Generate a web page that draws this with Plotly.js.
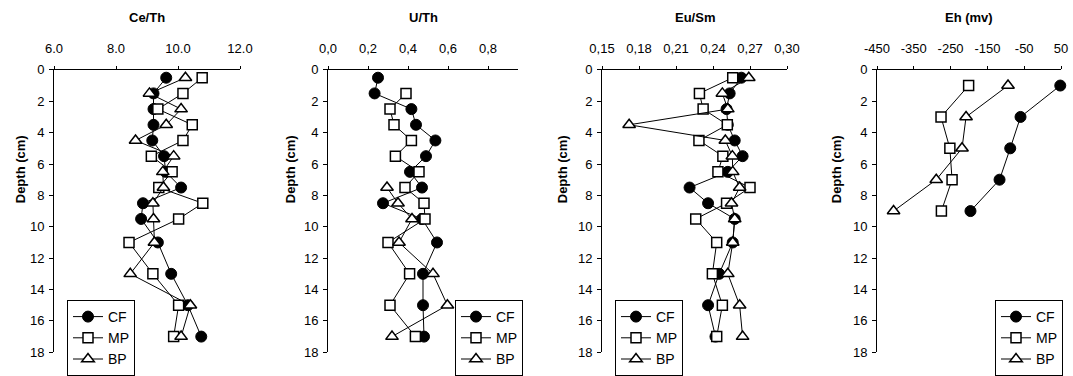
<!DOCTYPE html>
<html>
<head>
<meta charset="utf-8">
<script src="https://cdn.plot.ly/plotly-3.0.1.min.js"></script>
<style>html,body{margin:0;padding:0;background:#fff;}#chart{width:1073px;height:376px;}</style>
</head>
<body>
<div id="chart"></div>
<script>
// ---- data ----
const depth = [0.5, 1.5, 2.5, 3.5, 4.5, 5.5, 6.5, 7.5, 8.5, 9.5, 11, 13, 15, 17];
const depthMP_U = [1.5, 2.5, 3.5, 4.5, 5.5, 6.5, 7.5, 8.5, 9.5, 11, 13, 15, 17];
const depthBP_U = [7.5, 8.5, 9.5, 11, 13, 15, 17];
const depthEh = [1, 3, 5, 7, 9];

const ceTh_CF = [9.62, 9.21, 9.21, 9.21, 9.17, 9.55, 9.6, 10.1, 8.87, 8.81, 9.35, 9.78, 10.32, 10.75];
const ceTh_MP = [10.78, 10.16, 9.35, 10.46, 10.16, 9.14, 9.81, 9.38, 10.8, 10.02, 8.42, 9.19, 10.02, 9.86];
const ceTh_BP = [10.24, 9.08, 10.1, 9.62, 8.63, 9.86, 9.51, 9.53, 9.19, 9.21, 9.24, 8.46, 10.4, 10.1];

const uTh_CF = [0.25, 0.233, 0.417, 0.44, 0.537, 0.49, 0.41, 0.47, 0.275, 0.47, 0.545, 0.475, 0.475, 0.48];
const uTh_MP = [0.39, 0.31, 0.33, 0.417, 0.337, 0.455, 0.385, 0.48, 0.485, 0.30, 0.408, 0.31, 0.437];
const uTh_BP = [0.295, 0.35, 0.42, 0.355, 0.525, 0.597, 0.32];

const euSm_CF = [0.263, 0.2535, 0.251, 0.252, 0.2576, 0.264, 0.252, 0.221, 0.236, 0.2576, 0.256, 0.245, 0.236, 0.242];
const euSm_MP = [0.256, 0.229, 0.232, 0.2516, 0.2286, 0.248, 0.244, 0.27, 0.251, 0.226, 0.243, 0.2395, 0.2476, 0.243];
const euSm_BP = [0.269, 0.2476, 0.252, 0.172, 0.25, 0.2557, 0.256, 0.2616, 0.255, 0.2576, 0.256, 0.252, 0.2616, 0.264];

const eh_CF = [48, -60, -88, -117, -196];
const eh_MP = [-201, -276, -252, -246, -275];
const eh_BP = [-94, -208, -219, -289, -405];

const panelTitles = ["Ce/Th", "U/Th", "Eu/Sm", "Eh (mv)"];
const seriesNames = ["CF", "MP", "BP"];
const yTickVals = [0, 2, 4, 6, 8, 10, 12, 14, 16, 18];
const yTickText = ["0", "2", "4", "6", "8", "10", "12", "14", "16", "18"];
const x1TickVals = [6, 8, 10, 12];
const x1TickText = ["6.0", "8.0", "10.0", "12.0"];
const x2TickVals = [0, 0.2, 0.4, 0.6, 0.8];
const x2TickText = ["0,0", "0,2", "0,4", "0,6", "0,8"];
const x3TickVals = [0.15, 0.18, 0.21, 0.24, 0.27, 0.30];
const x3TickText = ["0,15", "0,18", "0,21", "0,24", "0,27", "0,30"];
const x4TickVals = [-450, -350, -250, -150, -50, 50];
const x4TickText = ["-450", "-350", "-250", "-150", "-50", "50"];

// ---- styling ----
const W = 1073, H = 376;
const FONT = "Arial, 'Liberation Sans', Helvetica, sans-serif";
const styles = {
  CF: {marker: {symbol: "circle", size: 11, color: "#000", line: {color: "#000", width: 1}}},
  MP: {marker: {symbol: "square", size: 10, color: "#fff", line: {color: "#000", width: 1.5}}},
  BP: {marker: {symbol: "triangle-up", size: 11, color: "#fff", line: {color: "#000", width: 1.5}}}
};

function tr(xs, ys, name, k) {
  const ax = k === 1 ? "" : String(k);
  return {
    x: xs, y: ys, name: name, type: "scatter", mode: "lines+markers",
    xaxis: "x" + ax, yaxis: "y" + ax,
    legend: k === 1 ? "legend" : "legend" + k,
    line: {color: "#000", width: 1},
    marker: styles[name].marker,
    cliponaxis: false, showlegend: true
  };
}

const traces = [
  tr(ceTh_CF, depth, "CF", 1), tr(ceTh_MP, depth, "MP", 1), tr(ceTh_BP, depth, "BP", 1),
  tr(uTh_CF, depth, "CF", 2), tr(uTh_MP, depthMP_U, "MP", 2), tr(uTh_BP, depthBP_U, "BP", 2),
  tr(euSm_CF, depth, "CF", 3), tr(euSm_MP, depth, "MP", 3), tr(euSm_BP, depth, "BP", 3),
  tr(eh_CF, depthEh, "CF", 4), tr(eh_MP, depthEh, "MP", 4), tr(eh_BP, depthEh, "BP", 4)
];

const px = [[54, 240], [328, 518], [602, 787], [877, 1061]];
const ranges = [[6, 12], [0, 0.95], [0.15, 0.30], [-450, 50]];
const tvals = [x1TickVals, x2TickVals, x3TickVals, x4TickVals];
const ttext = [x1TickText, x2TickText, x3TickText, x4TickText];
const yTop = 71, yBot = 358;
const legendLeft = [67, 455, 615, 995];
const depthLabelX = [20, 290, 562, 836];

const layout = {
  width: W, height: H,
  margin: {l: 0, r: 0, t: 0, b: 0},
  paper_bgcolor: "#fff", plot_bgcolor: "rgba(0,0,0,0)",
  font: {family: FONT, size: 13, color: "#000"},
  annotations: []
};

for (let i = 0; i < 4; i++) {
  const k = i + 1, s = k === 1 ? "" : String(k);
  layout["xaxis" + s] = {
    domain: [px[i][0] / W, px[i][1] / W],
    range: ranges[i], side: "top", anchor: "y" + s,
    tickmode: "array", tickvals: tvals[i], ticktext: ttext[i],
    ticks: "outside", ticklen: 3, tickwidth: 1, tickcolor: "#000",
    ticklabelstandoff: 8,
    showline: true, linecolor: "#000", linewidth: 1,
    showgrid: false, zeroline: false, fixedrange: true,
    tickfont: {family: FONT, size: 13, color: "#000"}
  };
  layout["yaxis" + s] = {
    domain: [1 - yBot / H, 1 - yTop / H],
    range: [18, 0], anchor: "x" + s,
    tickmode: "array", tickvals: yTickVals, ticktext: yTickText,
    ticks: "outside", ticklen: 4, tickwidth: 1, tickcolor: "#000",
    ticklabelstandoff: 2,
    showline: true, linecolor: "#000", linewidth: 1,
    showgrid: false, zeroline: false, fixedrange: true,
    tickfont: {family: FONT, size: 13, color: "#000"}
  };
  layout[k === 1 ? "legend" : "legend" + k] = {
    x: legendLeft[i] / W, xanchor: "left",
    y: 1 - 305 / H, yanchor: "top",
    bgcolor: "#fff", bordercolor: "#000", borderwidth: 1,
    font: {family: FONT, size: 14, color: "#000"},
    tracegroupgap: 0, itemwidth: 30
  };
  layout.annotations.push({
    text: "<b>" + panelTitles[i] + "</b>",
    xref: "paper", yref: "paper",
    x: (px[i][0] + px[i][1]) / 2 / W, y: 1 - 18 / H,
    xanchor: "center", yanchor: "middle", showarrow: false,
    font: {family: FONT, size: 13, color: "#000"}
  });
  layout.annotations.push({
    text: "<b>Depth (cm)</b>",
    xref: "paper", yref: "paper",
    x: depthLabelX[i] / W, y: 1 - 172 / H,
    xanchor: "center", yanchor: "middle", textangle: -90, showarrow: false,
    font: {family: FONT, size: 13, color: "#000"}
  });
}

Plotly.newPlot("chart", traces, layout, {staticPlot: true, displayModeBar: false});
</script>
</body>
</html>
